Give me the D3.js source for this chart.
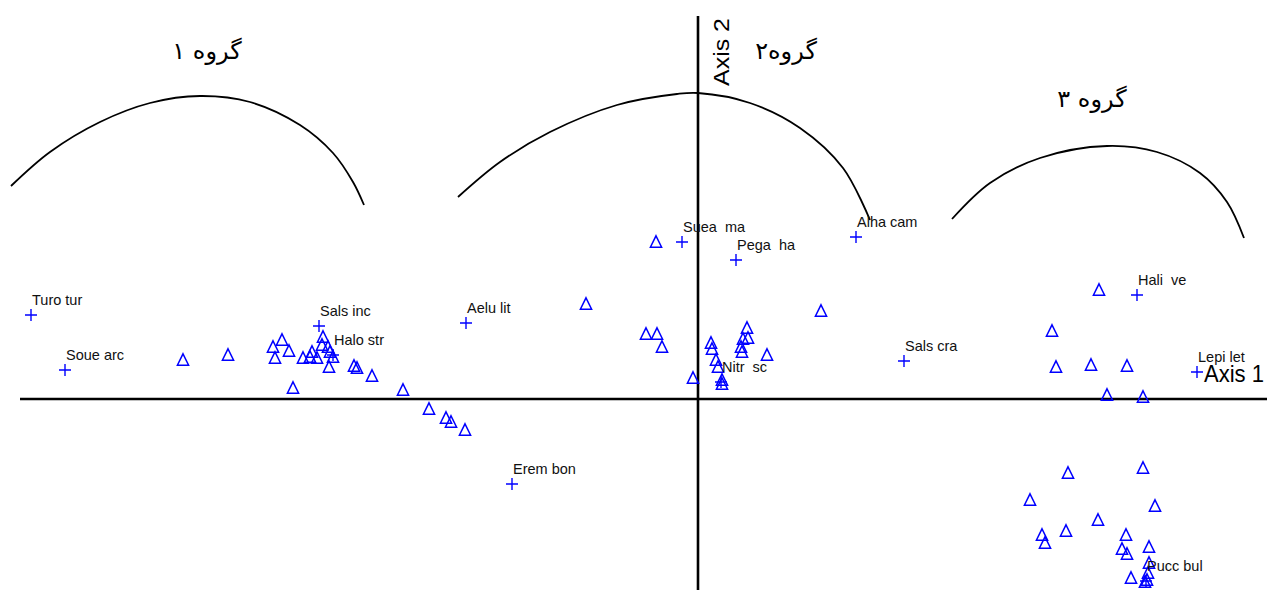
<!DOCTYPE html>
<html><head><meta charset="utf-8">
<script src="https://cdn.jsdelivr.net/npm/d3@7"></script>
<style>
html,body{margin:0;padding:0;background:#fff;}
svg{display:block;}
</style></head>
<body>
<svg id="chart" width="1267" height="590"></svg>
<script>
// ---- data (ordination scores) ----
const speciesNames = ["Turo tur","Soue arc","Sals inc","Halo str","Aelu lit","Erem bon","Suea  ma","Pega  ha","Alha cam","Sals cra","Hali  ve","Lepi let","Nitr  sc","Pucc bul"];
const speciesX = [-3.335,-3.165,-1.895,-1.825,-1.16,-0.93,-0.08,0.19,0.79,1.03,2.195,2.495,0.115,2.24];
const speciesY = [0.42,0.145,0.365,0.22,0.38,-0.425,0.785,0.695,0.81,0.19,0.52,0.135,0.085,-0.91];

const siteX = [-2.575,-2.35,-2.08,-2.125,-2.045,-2.115,-2.025,-1.975,-1.93,-1.94,-1.905,-1.875,-1.88,-1.85,-1.84,-1.825,-1.845,-1.72,-1.705,-1.63,-1.475,-1.345,-1.26,-1.235,-1.165,
  -0.56,-0.26,-0.205,-0.18,-0.21,-0.025,0.065,0.07,0.09,0.1,0.12,0.12,0.245,0.225,0.25,0.215,0.22,0.345,0.615,
  2.005,1.77,1.79,1.965,2.145,2.045,2.225,2.225,1.85,1.66,2.285,2.0,1.84,1.72,1.735,2.14,2.12,2.145,2.255,2.255,2.25,2.165,2.235,2.245];
const siteY = [0.195,0.22,0.295,0.26,0.24,0.205,0.055,0.205,0.235,0.21,0.205,0.31,0.27,0.26,0.235,0.21,0.16,0.165,0.155,0.115,0.045,-0.05,-0.095,-0.115,-0.155,
  0.475,0.325,0.325,0.26,0.785,0.105,0.28,0.25,0.195,0.16,0.095,0.075,0.355,0.3,0.305,0.26,0.235,0.22,0.44,
  0.545,0.34,0.16,0.17,0.165,0.02,0.01,-0.345,-0.37,-0.505,-0.535,-0.605,-0.66,-0.68,-0.72,-0.68,-0.75,-0.775,-0.74,-0.82,-0.87,-0.895,-0.915,-0.905];

const groupLabels = ["\u06AF\u0631\u0648\u0647 \u06F1","\u06AF\u0631\u0648\u0647\u06F2","\u06AF\u0631\u0648\u0647 \u06F3"];
const groupLabelX = [-2.455,0.44,1.97];
const groupLabelY = [1.7,1.7,1.46];

// hand-drawn group arcs (in axis units)
const arc1X = [-3.435,-3.24,-2.99,-2.74,-2.49,-2.24,-1.99,-1.825,-1.725,-1.67];
const arc1Y = [1.065,1.235,1.385,1.48,1.515,1.485,1.37,1.23,1.085,0.97];
const arc2X = [-1.2,-0.99,-0.74,-0.405,-0.105,0,0.26,0.51,0.725,0.86];
const arc2Y = [1.01,1.185,1.335,1.47,1.525,1.53,1.48,1.355,1.155,0.895];
const arc3X = [1.27,1.46,1.71,2.045,2.295,2.51,2.645,2.73];
const arc3Y = [0.9,1.08,1.205,1.265,1.235,1.13,0.985,0.805];

const axis1Label = "Axis 1";
const axis2Label = "Axis 2";

// ---- scales ----
const x = d3.scaleLinear().domain([-3.39, 2.845]).range([20, 1267]);
const y = d3.scaleLinear().domain([-0.955, 1.915]).range([590, 16]);

const svg = d3.select("#chart");
const blue = "#0000ff";

// axes through origin
svg.append("line").attr("x1", x.range()[0]).attr("x2", x.range()[1])
  .attr("y1", y(0)).attr("y2", y(0)).attr("stroke", "#000").attr("stroke-width", 2.6);
svg.append("line").attr("x1", x(0)).attr("x2", x(0))
  .attr("y1", y.range()[1]).attr("y2", y.range()[0]).attr("stroke", "#000").attr("stroke-width", 2.6);

// arcs
const line = d3.line().x(d => x(d[0])).y(d => y(d[1])).curve(d3.curveCatmullRom);
[[arc1X, arc1Y], [arc2X, arc2Y], [arc3X, arc3Y]].forEach(([ax, ay]) => {
  svg.append("path").attr("d", line(ax.map((v, i) => [v, ay[i]])))
    .attr("fill", "none").attr("stroke", "#000").attr("stroke-width", 1.8);
});

// site triangles
const tri = "M0,-6.2L5.6,5.2L-5.6,5.2Z";
svg.append("g").selectAll("path").data(siteX.map((v, i) => [v, siteY[i]])).join("path")
  .attr("d", tri)
  .attr("transform", d => `translate(${x(d[0])},${y(d[1])})`)
  .attr("fill", "none").attr("stroke", blue).attr("stroke-width", 1.5);

// species crosses
const sp = speciesNames.map((n, i) => ({ n, x: speciesX[i], y: speciesY[i] }));
const g = svg.append("g").selectAll("g").data(sp).join("g")
  .attr("transform", d => `translate(${x(d.x)},${y(d.y)})`);
g.append("path").attr("d", "M-6,0H6M0,-6V6").attr("stroke", blue).attr("stroke-width", 1.4).attr("fill", "none");
g.append("text").attr("x", 1).attr("y", -10).text(d => d.n)
  .attr("font-family", "Liberation Sans, Arial, sans-serif").attr("font-size", 14.5)
  .attr("fill", "#111").style("white-space", "pre");

// axis labels
svg.append("text").attr("x", 1204).attr("y", 382).text(axis1Label)
  .attr("font-family", "Liberation Sans, Arial, sans-serif").attr("font-size", 24)
  .attr("textLength", 60).attr("lengthAdjust", "spacingAndGlyphs").attr("fill", "#000");
svg.append("text").attr("transform", "translate(729,86) rotate(-90)").text(axis2Label)
  .attr("font-family", "Liberation Sans, Arial, sans-serif").attr("font-size", 22)
  .attr("textLength", 68).attr("lengthAdjust", "spacingAndGlyphs").attr("fill", "#000");

// group labels
svg.append("g").selectAll("text").data(groupLabels).join("text")
  .attr("x", (d, i) => x(groupLabelX[i])).attr("y", (d, i) => y(groupLabelY[i]))
  .attr("text-anchor", "middle").attr("direction", "rtl")
  .attr("font-family", "DejaVu Sans, sans-serif").attr("font-size", 24)
  .attr("fill", "#000").text(d => d);
</script>
</body></html>
